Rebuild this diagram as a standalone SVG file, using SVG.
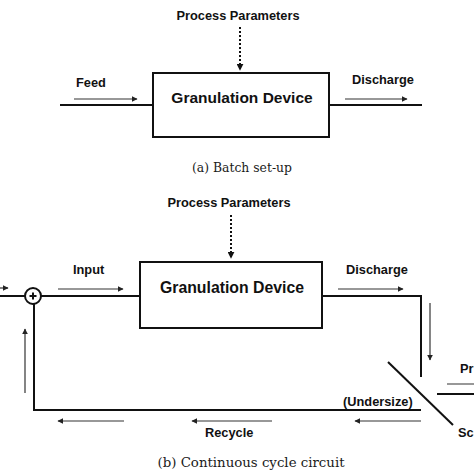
<svg xmlns="http://www.w3.org/2000/svg" width="474" height="474" viewBox="0 0 474 474">
<defs>
<style>
.lbl{font-family:"Liberation Sans",Arial,sans-serif;font-weight:bold;fill:#111;font-size:12.8px}
.big{font-family:"Liberation Sans",Arial,sans-serif;font-weight:bold;fill:#111;font-size:15.5px}
.cap{font-family:"DejaVu Serif","Liberation Serif",serif;fill:#1a1a1a;font-size:13px}
.box{fill:#fff;stroke:#111;stroke-width:2}
.pipe{fill:none;stroke:#111;stroke-width:2}
.arr{fill:none;stroke:#333;stroke-width:1.2;marker-end:url(#ah)}
.dot{fill:none;stroke:#111;stroke-width:2;stroke-dasharray:2 2;marker-end:url(#ahd)}
</style>
<marker id="ah" viewBox="0 0 10 10" refX="9" refY="5" markerWidth="6" markerHeight="6" markerUnits="userSpaceOnUse" orient="auto">
<path d="M0,0 L10,5 L0,10 z" fill="#222"/>
</marker>
<marker id="ahd" viewBox="0 0 10 10" refX="9" refY="5" markerWidth="7" markerHeight="7" markerUnits="userSpaceOnUse" orient="auto">
<path d="M0,0 L10,5 L0,10 z" fill="#111"/>
</marker>
</defs>
<rect width="474" height="474" fill="#fff"/>

<!-- (a) Batch set-up -->
<g id="connectors-a">
<line class="pipe" x1="60" y1="105" x2="153" y2="105"/>
<line class="pipe" x1="329" y1="105" x2="422" y2="105"/>
<line class="arr" x1="74" y1="99" x2="137" y2="99"/>
<line class="arr" x1="345" y1="99" x2="407" y2="99"/>
<line class="dot" x1="240" y1="27" x2="240" y2="70"/>
</g>
<g id="params-a"><text class="lbl" x="238" y="20" text-anchor="middle">Process Parameters</text></g>
<g id="device-a">
<rect class="box" x="153" y="73" width="176" height="64"/>
<text class="big" x="242" y="103" text-anchor="middle">Granulation Device</text>
</g>
<g id="feed-a"><text class="lbl" x="76" y="87">Feed</text></g>
<g id="discharge-a"><text class="lbl" x="352" y="84">Discharge</text></g>
<g id="caption-a"><text class="cap" x="242" y="172" text-anchor="middle" textLength="100" lengthAdjust="spacingAndGlyphs">(a) Batch set-up</text></g>

<!-- (b) Continuous cycle circuit -->
<g id="connectors-b">
<line class="pipe" x1="0" y1="296" x2="25" y2="296"/>
<line class="pipe" x1="41" y1="296" x2="140" y2="296"/>
<polyline class="pipe" points="322,296 421,296 421,377"/>
<polyline class="pipe" points="421,410 34,410 34,304"/>
<line class="pipe" x1="437" y1="394" x2="474" y2="394"/>
<line class="pipe" x1="388" y1="362" x2="453" y2="425"/>
<line class="arr" x1="0" y1="288" x2="8" y2="288"/>
<line class="arr" x1="58" y1="289" x2="123" y2="289"/>
<line class="arr" x1="338" y1="289" x2="403" y2="289"/>
<line class="arr" x1="430" y1="303" x2="430" y2="360"/>
<line class="arr" x1="447" y1="384" x2="480" y2="384"/>
<line class="arr" x1="421" y1="421" x2="355" y2="421"/>
<line class="arr" x1="272" y1="421" x2="192" y2="421"/>
<line class="arr" x1="124" y1="421" x2="58" y2="421"/>
<line class="arr" x1="25" y1="393" x2="25" y2="329"/>
<line class="dot" x1="231" y1="215" x2="231" y2="258"/>
</g>
<g id="sum-b">
<circle cx="33" cy="296" r="8" fill="#fff" stroke="#111" stroke-width="2"/>
<path d="M29.5,296 H36.5 M33,292.5 V299.5" stroke="#111" stroke-width="2"/>
</g>
<g id="params-b"><text class="lbl" x="229" y="207" text-anchor="middle">Process Parameters</text></g>
<g id="device-b">
<rect class="box" x="140" y="262" width="182" height="66"/>
<text class="big" x="232" y="293" text-anchor="middle" style="font-size:15.8px">Granulation Device</text>
</g>
<g id="input-b"><text class="lbl" x="73" y="274">Input</text></g>
<g id="discharge-b"><text class="lbl" x="346" y="274">Discharge</text></g>
<g id="product-b"><text class="lbl" x="460" y="373">Pr</text></g>
<g id="undersize-b"><text class="lbl" x="343" y="406">(Undersize)</text></g>
<g id="recycle-b"><text class="lbl" x="205" y="437">Recycle</text></g>
<g id="screen-b"><text class="lbl" x="458" y="437">Sc</text></g>
<g id="caption-b"><text class="cap" x="251" y="467" text-anchor="middle" textLength="187" lengthAdjust="spacingAndGlyphs">(b) Continuous cycle circuit</text></g>
</svg>
